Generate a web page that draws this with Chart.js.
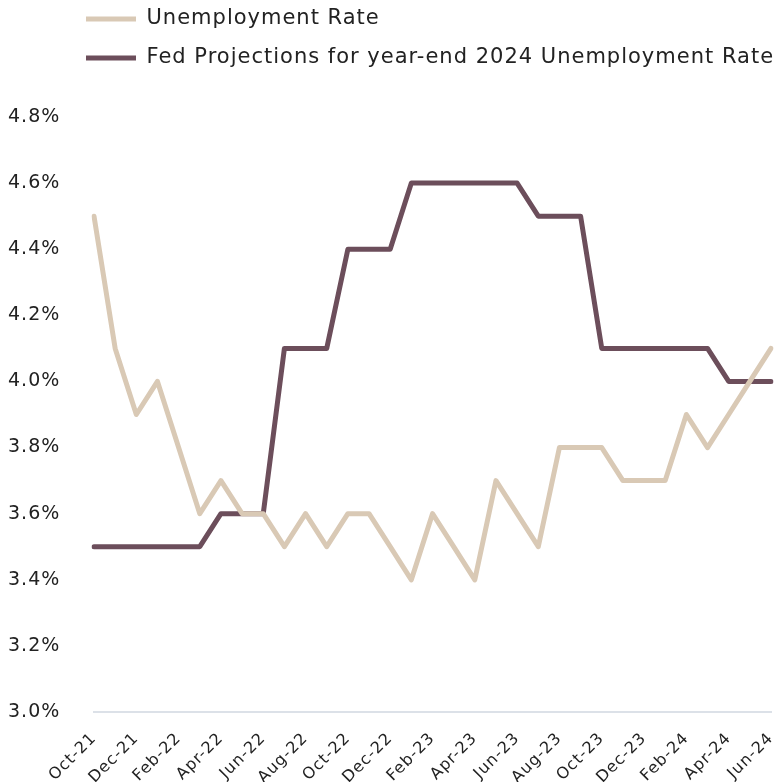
<!DOCTYPE html>
<html>
<head>
<meta charset="utf-8">
<script src="https://cdn.jsdelivr.net/npm/chart.js@4"></script>
<style>
    body { margin: 0; background: #ffffff; }
    #chart-wrap { width: 778px; height: 782px; position: relative; }
</style>
</head>
<body>
<div id="chart-wrap"><canvas id="unemployment-chart"></canvas></div>
<script>
// Monthly categories, Oct-21 .. Jun-24
const months = [
    'Oct-21', 'Nov-21', 'Dec-21',
    'Jan-22', 'Feb-22', 'Mar-22', 'Apr-22', 'May-22', 'Jun-22',
    'Jul-22', 'Aug-22', 'Sep-22', 'Oct-22', 'Nov-22', 'Dec-22',
    'Jan-23', 'Feb-23', 'Mar-23', 'Apr-23', 'May-23', 'Jun-23',
    'Jul-23', 'Aug-23', 'Sep-23', 'Oct-23', 'Nov-23', 'Dec-23',
    'Jan-24', 'Feb-24', 'Mar-24', 'Apr-24', 'May-24', 'Jun-24'
];

// Actual unemployment rate (%)
const unemploymentRate = [
    4.5, 4.1, 3.9,
    4.0, 3.8, 3.6, 3.7, 3.6, 3.6,
    3.5, 3.6, 3.5, 3.6, 3.6, 3.5,
    3.4, 3.6, 3.5, 3.4, 3.7, 3.6,
    3.5, 3.8, 3.8, 3.8, 3.7, 3.7,
    3.7, 3.9, 3.8, 3.9, 4.0, 4.1
];

// Fed (SEP) projection for year-end 2024 unemployment (%)
const fedProjection = [
    3.5, 3.5, 3.5,
    3.5, 3.5, 3.5, 3.6, 3.6, 3.6,
    4.1, 4.1, 4.1, 4.4, 4.4, 4.4,
    4.6, 4.6, 4.6, 4.6, 4.6, 4.6,
    4.5, 4.5, 4.5, 4.1, 4.1, 4.1,
    4.1, 4.1, 4.1, 4.0, 4.0, 4.0
];

const seriesNames = ['Unemployment Rate', 'Fed Projections for year-end 2024 Unemployment Rate'];
const seriesColors = ['#d9c9b5', '#6c4e5b'];

// y axis range
const yMin = 3.0;
const yMax = 4.8;
const yStep = 0.2;

const textColor = '#222222';
const fontFamily = "'DejaVu Sans', sans-serif";

// the original text is a little more spread out
const letterSpacing = {
    id: 'letterSpacing',
    beforeUpdate(chart) { chart.ctx.letterSpacing = '1px'; },
    beforeDraw(chart) { chart.ctx.letterSpacing = '1px'; }
};

// move the legend so it sits where the original one does
const legendPosition = {
    id: 'legendPosition',
    afterLayout(chart) {
        if (chart.legend) {
            chart.legend.left = 68;
            chart.legend.top = -9.5;
        }
    }
};

const ctx = document.getElementById('unemployment-chart');
new Chart(ctx, {
    type: 'line',
    data: {
        labels: months,
        datasets: [{
            label: seriesNames[0],
            data: unemploymentRate,
            borderColor: seriesColors[0],
            backgroundColor: seriesColors[0],
            borderWidth: 5,
            borderJoinStyle: 'round',
            borderCapStyle: 'round',
            pointRadius: 0,
            tension: 0
        }, {
            label: seriesNames[1],
            data: fedProjection,
            borderColor: seriesColors[1],
            backgroundColor: seriesColors[1],
            borderWidth: 5,
            borderJoinStyle: 'round',
            borderCapStyle: 'round',
            pointRadius: 0,
            tension: 0
        }]
    },
    options: {
        responsive: true,
        maintainAspectRatio: false,
        animation: false,
        layout: {
            padding: { left: 8, right: 0, top: 29, bottom: 0 }
        },
        plugins: {
            legend: {
                position: 'top',
                align: 'start',
                labels: {
                    color: textColor,
                    font: { family: fontFamily, size: 21 },
                    boxWidth: 50,
                    boxHeight: 5,
                    padding: 18,
                    useBorderRadius: true,
                    borderRadius: 2.5,
                    generateLabels(chart) {
                        return chart.data.datasets.map((ds, i) => ({
                            text: ds.label,
                            fillStyle: ds.borderColor,
                            strokeStyle: ds.borderColor,
                            lineWidth: 0,
                            fontColor: textColor,
                            datasetIndex: i
                        }));
                    }
                }
            },
            tooltip: { enabled: false }
        },
        scales: {
            x: {
                offset: false,
                grid: { display: false },
                border: { display: true, color: '#dce1e8', width: 2 },
                afterFit: function(scale) {
                    scale.height = 70;
                    scale.paddingRight = 7;
                },
                ticks: {
                    color: textColor,
                    font: { family: fontFamily, size: 16 },
                    autoSkip: false,
                    minRotation: 45,
                    maxRotation: 45,
                    padding: 9,
                    callback: function(value, index) {
                        return index % 2 === 0 ? months[index] : '';
                    }
                }
            },
            y: {
                min: yMin,
                max: yMax,
                grid: { display: false },
                border: { display: false },
                afterFit: function(scale) {
                    scale.width = 86;
                },
                ticks: {
                    stepSize: yStep,
                    crossAlign: 'far',
                    color: textColor,
                    font: { family: fontFamily, size: 19 },
                    callback: function(value) {
                        return value.toFixed(1) + '%';
                    }
                }
            }
        }
    },
    plugins: [letterSpacing, legendPosition]
});
</script>
</body>
</html>
